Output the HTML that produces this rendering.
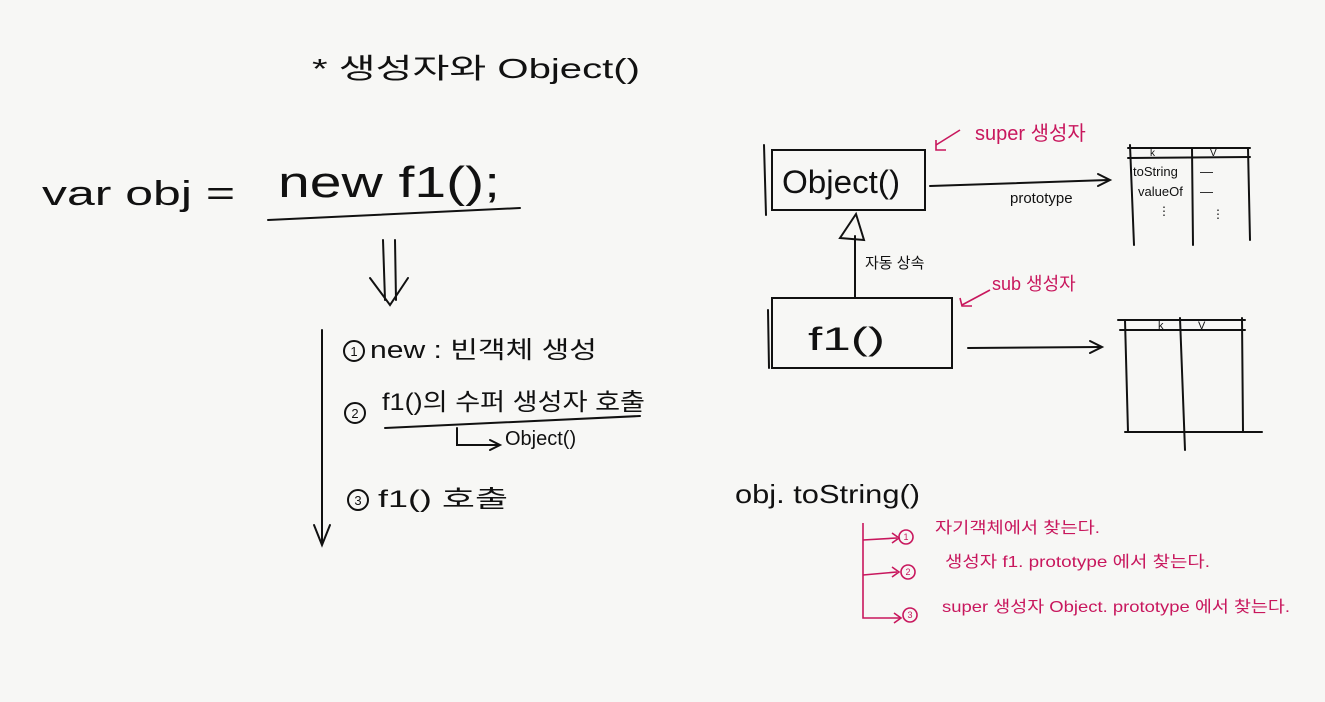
<!DOCTYPE html>
<html><head><meta charset="utf-8"><style>
html,body{margin:0;padding:0;background:#f7f7f5;}
svg{display:block}
text{font-family:"Liberation Sans","Noto Sans CJK KR",sans-serif;fill:#111}
.m{fill:#c8175d}
</style></head><body>
<svg width="1325" height="702" viewBox="0 0 1325 702" xmlns="http://www.w3.org/2000/svg">
<rect width="1325" height="702" fill="#f7f7f5"/>
<g stroke="#111" stroke-width="2" fill="none" stroke-linecap="round">
<line x1="268" y1="220" x2="520" y2="208"/>
<line x1="383" y1="240" x2="385" y2="300"/><line x1="395" y1="240" x2="396" y2="300"/>
<polyline points="370,278 390,305 408,278"/>
<line x1="322" y1="330" x2="322" y2="543"/><polyline points="314,525 322,545 330,525"/>
<line x1="385" y1="428" x2="640" y2="416"/>
<polyline points="457,428 457,445 498,445"/><polyline points="490,440 500,445 490,450"/>
<circle cx="354" cy="351" r="10"/><circle cx="355" cy="413" r="10"/><circle cx="358" cy="500" r="10"/>
<rect x="772" y="150" width="153" height="60"/><line x1="764" y1="145" x2="766" y2="215"/>
<line x1="930" y1="186" x2="1108" y2="180"/><polyline points="1098,174 1110,180 1098,186"/>
<rect x="772" y="298" width="180" height="70"/><line x1="768" y1="310" x2="769" y2="368"/>
<line x1="968" y1="348" x2="1100" y2="347"/><polyline points="1090,341 1102,347 1090,353"/>
<line x1="855" y1="297" x2="855" y2="236"/><polygon points="840,238 856,214 864,240"/>
<line x1="1128" y1="148" x2="1250" y2="148"/><line x1="1128" y1="158" x2="1250" y2="157"/>
<line x1="1130" y1="145" x2="1134" y2="245"/><line x1="1192" y1="148" x2="1193" y2="245"/><line x1="1248" y1="148" x2="1250" y2="240"/>
<line x1="1118" y1="320" x2="1245" y2="320"/><line x1="1120" y1="330" x2="1245" y2="330"/>
<line x1="1125" y1="320" x2="1128" y2="432"/><line x1="1180" y1="318" x2="1185" y2="450"/><line x1="1242" y1="318" x2="1243" y2="432"/>
<line x1="1125" y1="432" x2="1262" y2="432"/>
</g>
<g font-size="13" text-anchor="middle">
<text x="354" y="356">1</text><text x="355" y="418">2</text><text x="358" y="505">3</text>
</g>
<g stroke="#c8175d" stroke-width="1.6" fill="none">
<polyline points="863,523 863,618 900,618"/>
<line x1="863" y1="540" x2="897" y2="538"/><line x1="863" y1="575" x2="897" y2="572"/>
<polyline points="892,533 899,538 892,543"/><polyline points="892,567 899,572 892,577"/><polyline points="894,613 901,618 894,623"/>
<circle cx="906" cy="537" r="7"/><circle cx="908" cy="572" r="7"/><circle cx="910" cy="615" r="7"/>
<polyline points="936,145 960,130"/><polyline points="936,140 936,150 946,150"/>
<polyline points="962,305 990,290"/><polyline points="960,298 962,306 972,306"/>
</g>
<g font-size="9" text-anchor="middle" class="m">
<text class="m" x="906" y="540">1</text><text class="m" x="908" y="575">2</text><text class="m" x="910" y="618">3</text>
</g>
<text x="312" y="78" font-size="28" textLength="328" lengthAdjust="spacingAndGlyphs">* 생성자와  Object()</text>
<text x="42" y="205" font-size="34" textLength="193" lengthAdjust="spacingAndGlyphs">var  obj  =</text>
<text x="278" y="197" font-size="44" textLength="222" lengthAdjust="spacingAndGlyphs">new  f1();</text>
<text x="370" y="358" font-size="24" textLength="227" lengthAdjust="spacingAndGlyphs">new : 빈객체 생성</text>
<text x="382" y="410" font-size="24" textLength="263" lengthAdjust="spacingAndGlyphs">f1()의 수퍼 생성자 호출</text>
<text x="505" y="445" font-size="20">Object()</text>
<text x="378" y="507" font-size="24" textLength="130" lengthAdjust="spacingAndGlyphs">f1() 호출</text>
<text x="782" y="193" font-size="32" textLength="118" lengthAdjust="spacingAndGlyphs">Object()</text>
<text x="808" y="350" font-size="32" textLength="77" lengthAdjust="spacingAndGlyphs">f1()</text>
<text x="1010" y="203" font-size="15">prototype</text>
<text x="865" y="268" font-size="15">자동 상속</text>
<text class="m" x="975" y="140" font-size="20">super 생성자</text>
<text class="m" x="992" y="290" font-size="18">sub 생성자</text>
<text x="1150" y="156" font-size="10">k</text><text x="1210" y="156" font-size="10">V</text>
<text x="1133" y="176" font-size="13">toString</text><text x="1138" y="196" font-size="13">valueOf</text>
<text x="1200" y="176" font-size="13">—</text><text x="1200" y="196" font-size="13">—</text>
<text x="1158" y="215" font-size="12">⋮</text><text x="1212" y="218" font-size="12">⋮</text>
<text x="1158" y="329" font-size="11">k</text><text x="1198" y="329" font-size="11">V</text>
<text x="735" y="503" font-size="26" textLength="185" lengthAdjust="spacingAndGlyphs">obj. toString()</text>
<text class="m" x="935" y="533" font-size="16" textLength="165" lengthAdjust="spacingAndGlyphs">자기객체에서 찾는다.</text>
<text class="m" x="945" y="567" font-size="16" textLength="265" lengthAdjust="spacingAndGlyphs">생성자 f1. prototype 에서 찾는다.</text>
<text class="m" x="942" y="612" font-size="16" textLength="348" lengthAdjust="spacingAndGlyphs">super 생성자  Object. prototype 에서 찾는다.</text>
</svg>
</body></html>
